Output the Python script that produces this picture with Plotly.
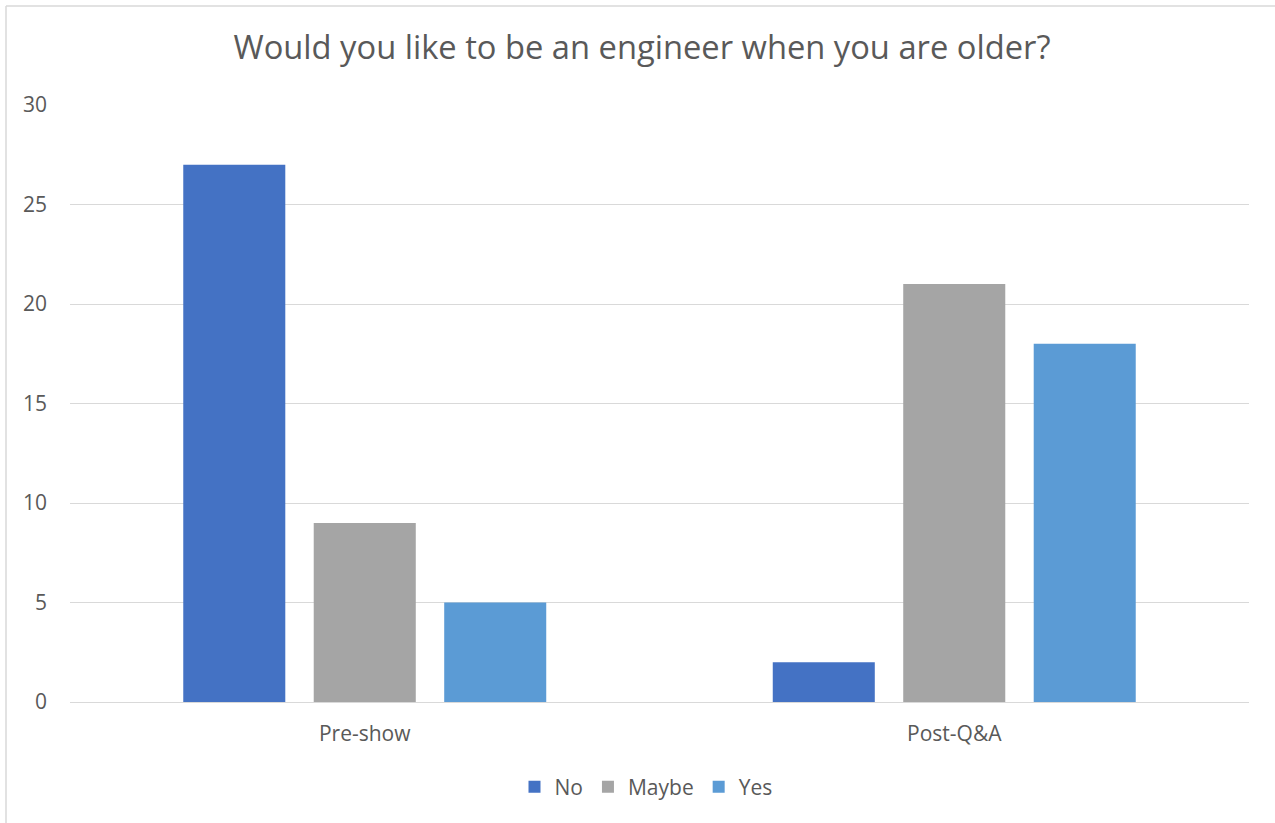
import plotly.graph_objects as go

categories = ["Pre-show", "Post-Q&A"]
series_names = ["No", "Maybe", "Yes"]
no_vals = [27, 2]
maybe_vals = [9, 21]
yes_vals = [5, 18]
colors = ["#4472C4", "#A5A5A5", "#5B9BD5"]
y_ticks = [0, 5, 10, 15, 20, 25, 30]

W, H = 1275, 823
L, R, T, B = 70, 26, 105, 121
font_family = "Open Sans, Liberation Sans, sans-serif"

fig = go.Figure()
for name, vals, c in zip(series_names, [no_vals, maybe_vals, yes_vals], colors):
    fig.add_trace(go.Bar(name=name, x=categories, y=vals, marker=dict(color=c, line=dict(width=0))))

pw = W - L - R
ph = H - T - B
def px_x(x):
    return (x - L) / pw
def px_y(y):
    return (H - B - y) / ph

fig.update_layout(
    width=W, height=H,
    margin=dict(l=L, r=R, t=T, b=B),
    paper_bgcolor="white", plot_bgcolor="white",
    barmode="group", bargap=0.336, bargroupgap=0.218,
    font=dict(family=font_family, color="#595959", size=21),
    title=dict(text="Would you like to be an engineer when you are older?",
               xref="container", x=642 / W, xanchor="center", y=1 - 48 / H, yanchor="middle",
               font=dict(size=32.7, color="#595959", family=font_family)),
    showlegend=True,
    legend=dict(orientation="h", x=px_x(646), xanchor="center", y=px_y(787), yanchor="middle",
                font=dict(size=21, color="#595959"), itemwidth=30, traceorder="normal"),
    xaxis=dict(showgrid=False, showline=False, ticks="", ticklabelstandoff=17,
               tickfont=dict(size=21, color="#595959")),
    yaxis=dict(range=[0, 30], tickvals=y_ticks, showgrid=True, gridcolor="#D9D9D9", gridwidth=1,
               zeroline=True, zerolinecolor="#D9D9D9", zerolinewidth=1,
               showline=False, ticks="", ticklabelstandoff=22,
               tickfont=dict(size=21, color="#595959")),
    shapes=[
        dict(type="line", xref="paper", yref="paper", x0=px_x(6), x1=px_x(6), y0=px_y(6), y1=px_y(H + 5),
             line=dict(color="#D9D9D9", width=1.5)),
        dict(type="line", xref="paper", yref="paper", x0=px_x(6), x1=px_x(W + 5), y0=px_y(6), y1=px_y(6),
             line=dict(color="#D9D9D9", width=1.5)),
    ],
)

fig.write_html("out.html")
